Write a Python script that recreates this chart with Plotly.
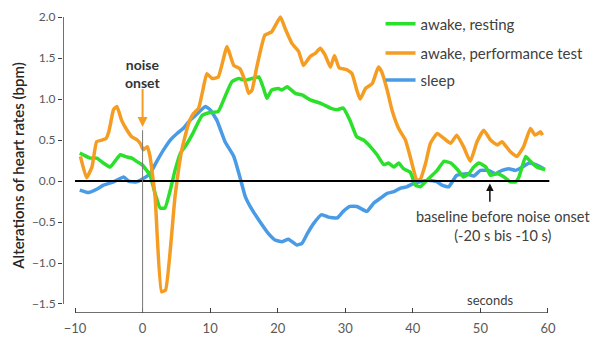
import plotly.graph_objects as go

# Heart-rate change (bpm) relative to the pre-noise baseline, by time (s) after noise onset
rest_t = [-9.3, -8.8, -7.8, -6.8, -5.8, -4.8, -4.1, -3.3, -2.6, -1.6, -0.9, -0.1, 0.6, 1.1, 1.85,
          2.6, 3.3, 4.1, 4.8, 5.6, 6.3, 7.3, 8.8, 9.7, 11.2, 12.0, 13.2, 14.2, 15.2, 16.2, 17.2,
          17.9, 18.4, 19.1, 20.1, 20.6, 21.4, 22.6, 23.6, 24.8, 26.3, 27.8, 28.8, 29.7, 30.7, 31.7,
          32.7, 33.7, 34.7, 35.7, 36.4, 37.2, 37.9, 38.6, 39.6, 40.4, 41.1, 42.1, 43.6, 44.6, 45.6,
          46.5, 47.5, 48.3, 49.0, 49.8, 50.8, 51.5, 52.5, 53.5, 54.4, 55.2, 55.7, 56.7, 57.4, 58.4,
          59.6]
rest_v = [0.34, 0.32, 0.28, 0.28, 0.22, 0.17, 0.24, 0.32, 0.30, 0.28, 0.24, 0.20, 0.13, 0.07, -0.15,
          -0.33, -0.33, -0.11, 0.13, 0.34, 0.42, 0.56, 0.80, 0.83, 0.85, 0.99, 1.21, 1.25, 1.23, 1.25, 1.27,
          1.13, 1.01, 1.11, 1.13, 1.11, 1.15, 1.07, 1.05, 0.99, 0.95, 0.89, 0.87, 0.89, 0.74, 0.54,
          0.50, 0.42, 0.32, 0.20, 0.22, 0.17, 0.22, 0.15, 0.11, -0.05, -0.07, 0.01, 0.13, 0.24, 0.22,
          0.15, 0.05, 0.09, 0.17, 0.22, 0.17, 0.07, 0.09, 0.05, -0.01, -0.01, 0.05, 0.30, 0.24, 0.17,
          0.14]

perf_t = [-9.2, -8.3, -7.5, -6.8, -6.0, -5.4, -5.0, -4.3, -3.8, -3.1, -2.3, -1.6, -0.8, -0.3, 0.1,
          0.7, 1.1, 1.85, 2.8, 3.4, 4.8, 5.8, 6.8, 7.5, 8.3, 8.9, 9.5, 10.3, 11.2, 12.5, 13.5, 14.4,
          15.2, 15.7, 16.2, 16.9, 18.1, 19.1, 20.4, 21.1, 22.1, 23.1, 23.8, 24.8, 25.6, 26.3, 27.0,
          27.8, 28.4, 29.1, 30.2, 31.0, 31.7, 32.2, 33.0, 34.0, 34.9, 35.4, 36.2, 36.9, 37.9, 38.9,
          39.6, 40.6, 41.1, 41.9, 42.6, 43.6, 44.6, 45.6, 46.5, 47.5, 48.5, 49.5, 50.5, 51.5, 52.5,
          53.2, 54.4, 55.4, 56.4, 57.4, 58.1, 58.9, 59.2]
perf_v = [0.30, 0.04, 0.17, 0.48, 0.50, 0.52, 0.60, 0.87, 0.91, 0.74, 0.62, 0.54, 0.50, 0.45, 0.38,
          0.42, 0.30, -0.19, -1.35, -1.33, -0.19, 0.38, 0.70, 0.82, 0.89, 1.10, 1.31, 1.25, 1.27, 1.64, 1.41, 1.37,
          1.21, 1.07, 1.11, 1.39, 1.78, 1.82, 2.00, 1.86, 1.68, 1.58, 1.41, 1.52, 1.56, 1.62, 1.54,
          1.39, 1.53, 1.38, 1.36, 1.31, 1.11, 1.00, 1.13, 1.19, 1.39, 1.33, 1.11, 0.87, 0.64, 0.50,
          0.30, 0.01, 0.02, 0.22, 0.46, 0.58, 0.52, 0.46, 0.56, 0.42, 0.24, 0.48, 0.62, 0.50, 0.44,
          0.48, 0.36, 0.30, 0.42, 0.64, 0.56, 0.60, 0.56]

sleep_t = [-9.3, -8.0, -6.8, -5.8, -4.3, -2.8, -2.1, -0.9, 0.1, 1.1, 2.1, 3.1, 4.1, 5.1, 6.0, 7.0,
           7.8, 9.3, 10.0, 11.0, 12.2, 13.5, 14.4, 15.2, 16.2, 17.4, 18.6, 19.6, 20.6, 21.6, 22.8,
           23.6, 24.4, 25.3, 26.5, 27.5, 28.8, 29.7, 30.7, 31.7, 33.2, 34.2, 35.2, 36.2, 37.2, 38.1,
           39.1, 40.1, 41.1, 42.3, 43.6, 44.3, 45.3, 46.5, 48.0, 49.0, 50.0, 51.2, 52.2, 53.2, 54.2,
           55.2, 56.2, 57.2, 58.2, 59.4]
sleep_v = [-0.11, -0.14, -0.10, -0.05, -0.01, 0.05, 0.00, -0.01, 0.03, 0.09, 0.24, 0.38, 0.50, 0.58, 0.64, 0.74,
           0.80, 0.91, 0.87, 0.74, 0.48, 0.30, 0.05, -0.19, -0.35, -0.50, -0.64, -0.72, -0.74, -0.71, -0.78,
           -0.76, -0.64, -0.52, -0.41, -0.44, -0.45, -0.37, -0.31, -0.31, -0.37, -0.27, -0.21, -0.15, -0.13, -0.09,
           -0.07, -0.03, -0.01, 0.01, -0.01, -0.05, -0.07, 0.07, 0.09, 0.06, 0.13, 0.13, 0.09, 0.13, 0.15,
           0.13, 0.17, 0.22, 0.20, 0.15]

x_ticks = [-10, 0, 10, 20, 30, 40, 50, 60]
y_ticks = [-1.5, -1.0, -0.5, 0.0, 0.5, 1.0, 1.5, 2.0]

GREEN = "#2BE02B"
ORANGE = "#F59D22"
BLUE = "#4A9BE6"
FONT = "Lato"
GREY = "#595959"

X_MIN, X_MAX = -11.78, 60.3
Y_MIN, Y_MAX = -1.61, 2.05

fig = go.Figure()
fig.add_trace(go.Scatter(x=sleep_t, y=sleep_v, mode="lines", name="sleep",
                         line=dict(color=BLUE, width=3.5, shape="spline", smoothing=0.4),
                         legend="legend3"))
fig.add_trace(go.Scatter(x=rest_t, y=rest_v, mode="lines", name="awake, resting",
                         line=dict(color=GREEN, width=3.5, shape="spline", smoothing=0.4),
                         legend="legend"))
fig.add_trace(go.Scatter(x=perf_t, y=perf_v, mode="lines", name="awake, performance test",
                         line=dict(color=ORANGE, width=3.5, shape="spline", smoothing=0.4),
                         legend="legend2"))

shapes = [
    # baseline at zero
    dict(type="line", xref="x", yref="y", x0=-10, x1=60.2, y0=0, y1=0,
         line=dict(color="black", width=2)),
    # noise onset marker
    dict(type="line", xref="x", yref="y", x0=0, x1=0, y0=0.62, y1=Y_MIN,
         line=dict(color="#777777", width=1)),
    # x axis line
    dict(type="line", xref="x", yref="y", x0=-10, x1=60, y0=Y_MIN, y1=Y_MIN,
         line=dict(color="#404040", width=1.5)),
    # y axis line
    dict(type="line", xref="x", yref="y", x0=X_MIN, x1=X_MIN, y0=-1.5, y1=2.0,
         line=dict(color="#404040", width=1.5)),
]

annotations = [
    dict(text="Alterations of heart rates (bpm)", xref="paper", yref="paper",
         x=-0.093, y=0.49, xanchor="center", yanchor="middle", textangle=-90, showarrow=False,
         font=dict(family=FONT, size=15, color="#262626", weight=600)),
    dict(text="<b>noise<br>onset</b>", x=0, y=1.31, xref="x", yref="y", showarrow=False,
         font=dict(family=FONT, size=14, color="#333333")),
    dict(text="", x=0, y=0.66, ax=0, ay=1.14, xref="x", yref="y", axref="x", ayref="y",
         showarrow=True, arrowhead=2, arrowsize=1, arrowwidth=2, arrowcolor=ORANGE),
    dict(text="baseline before noise onset<br>(-20 s bis -10 s)", x=53.4, y=-0.55,
         xref="x", yref="y", showarrow=False,
         font=dict(family=FONT, size=14.5, color="#404040")),
    dict(text="", x=51.4, y=-0.03, ax=51.4, ay=-0.27, xref="x", yref="y", axref="x", ayref="y",
         showarrow=True, arrowhead=2, arrowsize=1, arrowwidth=1.5, arrowcolor="#111111"),
    dict(text="seconds", x=51.4, y=-1.45, xref="x", yref="y", showarrow=False,
         font=dict(family=FONT, size=13, color="#404040")),
]

legend_style = dict(x=0.652, xanchor="left", yanchor="middle",
                    font=dict(family=FONT, size=15, color="#404040"),
                    bgcolor="rgba(0,0,0,0)")

fig.update_layout(
    width=613, height=338,
    margin=dict(l=63, r=63, t=13, b=25, autoexpand=False),
    paper_bgcolor="white", plot_bgcolor="white",
    showlegend=True,
    legend=dict(y=0.963, **legend_style),
    legend2=dict(y=0.866, **legend_style),
    legend3=dict(y=0.776, **legend_style),
    shapes=shapes,
    annotations=annotations,
    xaxis=dict(range=[X_MIN, X_MAX], tickvals=x_ticks, ticks="inside", ticklen=5,
               tickcolor="#404040", showgrid=False, zeroline=False, showline=False,
               ticklabelstandoff=6,
               tickfont=dict(family=FONT, size=13, color=GREY)),
    yaxis=dict(range=[Y_MIN, Y_MAX], tickvals=y_ticks, tickformat=".1f", ticks="outside",
               ticklen=4, tickcolor="#404040", showgrid=False, zeroline=False, showline=False,
               tickfont=dict(family=FONT, size=12, color=GREY)),
)

fig.write_html("out.html")
